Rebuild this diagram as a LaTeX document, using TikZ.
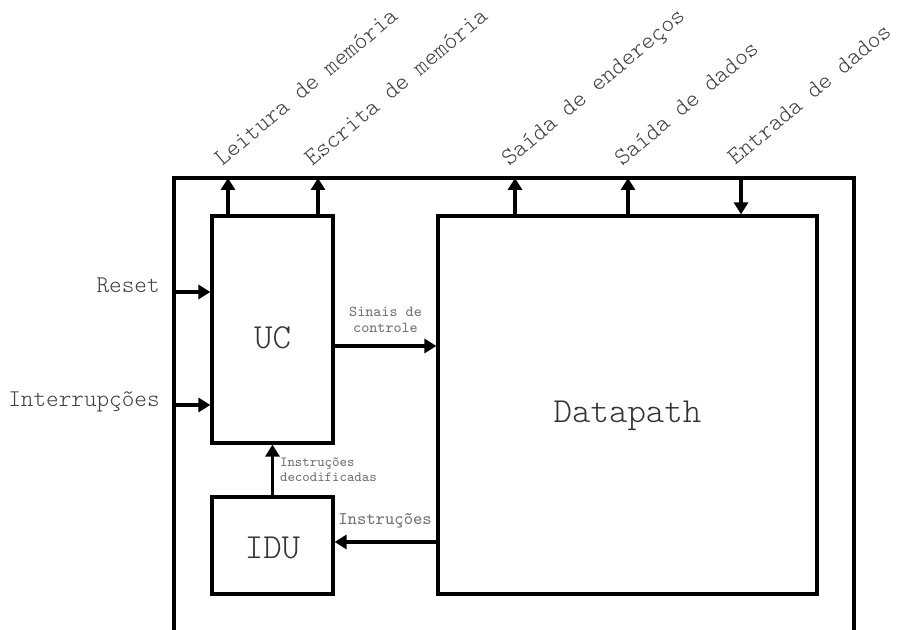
\documentclass[tikz,border=0pt]{standalone}
\renewcommand{\familydefault}{\ttdefault}
\usetikzlibrary{arrows.meta}

\tikzset{
  bloco/.style={draw, line width=1.6pt, inner sep=0pt, text=black!80,
    font=\fontsize{17.6}{20}\fontseries{l}\selectfont, text depth=0pt},
  sinal/.style={line width=1.6pt, -{Triangle[length=6pt,width=7pt]}},
  rotulo/.style={rotate=40, anchor=base west, inner sep=0pt, text=black!75,
    font=\fontsize{12.2}{14}\fontseries{l}\selectfont},
  entrada/.style={anchor=base east, inner sep=0pt, text=black!75,
    font=\fontsize{12}{14}\fontseries{l}\selectfont},
  nota/.style={inner sep=1pt, text=black!55},
}

\begin{document}
\begin{tikzpicture}[x=0.5pt, y=0.5pt]
  \useasboundingbox (0,0) rectangle (898,630);

  % caixa externa, aberta embaixo
  \coordinate (eb) at (174,0);
  \coordinate (et) at (174,452);
  \coordinate (dt) at (854,452);
  \coordinate (db) at (854,0);
  \draw[line width=1.6pt] (eb) -- (et) -- (dt) -- (db);

  \node[bloco, minimum width=60.5pt, minimum height=113.5pt,
    text height=19.2pt] (UC) at (272.5,300.5) {UC};
  \node[bloco, minimum width=189.5pt, minimum height=189pt,
    text height=17.7pt] (DP) at (627.5,225) {Datapath};
  \node[bloco, minimum width=60.5pt, minimum height=48.5pt,
    text height=13.2pt] (IDU) at (272.5,84.5) {IDU};

  % sinais que saem pelo topo
  \coordinate (lei) at (228,452);
  \coordinate (esc) at (318,452);
  \coordinate (send) at (515,452);
  \coordinate (sdad) at (628,452);
  \coordinate (edad) at (741,452);
  \draw[sinal] (lei |- UC.north) -- (lei);
  \draw[sinal] (esc |- UC.north) -- (esc);
  \draw[sinal] (send |- DP.north) -- (send);
  \draw[sinal] (sdad |- DP.north) -- (sdad);
  \draw[sinal] (edad) -- (edad |- DP.north);
  \node[rotulo] at ([xshift=-3pt, yshift=5.5pt]lei) {Leitura de memória};
  \node[rotulo] at ([xshift=-3pt, yshift=5.5pt]esc) {Escrita de memória};
  \node[rotulo] at ([xshift=-3pt, yshift=5.5pt]send) {Saída de endereços};
  \node[rotulo] at ([xshift=-3pt, yshift=5.5pt]sdad) {Saída de dados};
  \node[rotulo] at ([xshift=-3pt, yshift=6pt]edad) {Entrada de dados};

  % entradas da UC
  \coordinate (rst) at (174,338);
  \coordinate (irq) at (174,225);
  \draw[sinal] (rst) -- (rst -| UC.west);
  \draw[sinal] (irq) -- (irq -| UC.west);
  \node[entrada, xshift=-7pt, yshift=-0.5pt] at (rst) {Reset};
  \node[entrada, xshift=-7pt, yshift=-1pt] at (irq) {Interrupções};

  \coordinate (cs) at ([yshift=-8.25pt]UC.east);
  \draw[sinal] (cs) -- (cs -| DP.west)
    node[midway, above, nota, yshift=5pt, align=center,
      font=\fontsize{7.6}{8}\selectfont] {Sinais de\\controle};

  \draw[sinal] (IDU.north) -- (UC.south)
    node[midway, right, nota, xshift=2pt, align=left,
      font=\fontsize{7}{7.6}\selectfont] {Instruções\\decodificadas};

  \coordinate (ci) at ([yshift=1.75pt]IDU.east);
  \draw[sinal] (ci -| DP.west) -- (ci)
    node[pos=0, anchor=base east, nota, yshift=8.5pt, xshift=-0.5pt,
      font=\fontsize{8.9}{10}\selectfont] {Instruções};
\end{tikzpicture}
\end{document}
